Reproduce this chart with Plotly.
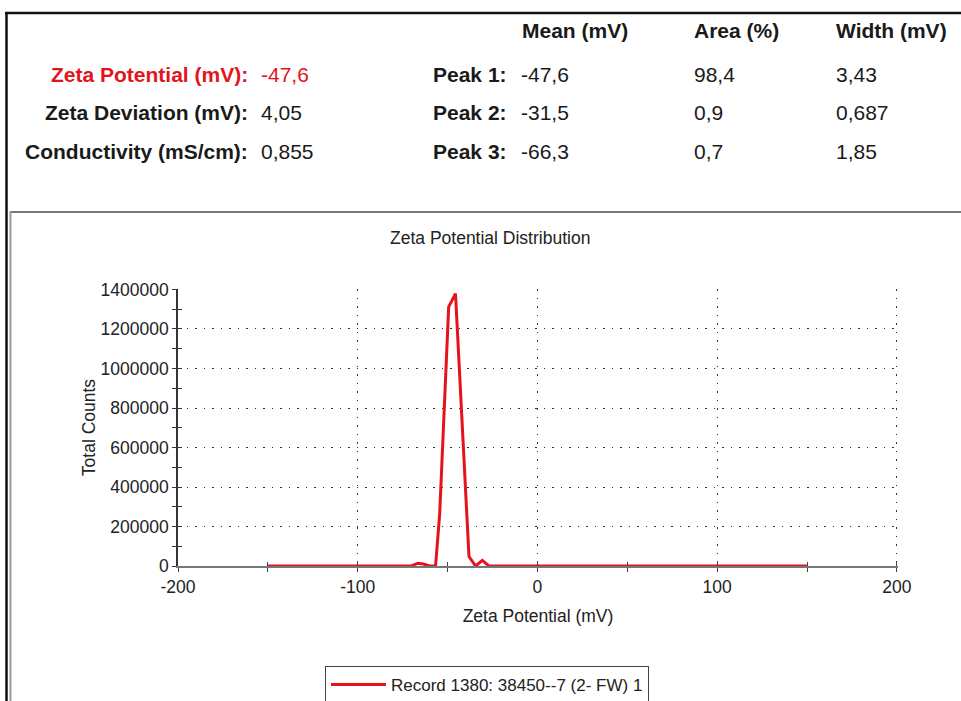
import plotly.graph_objects as go

# ---------------- data ----------------
zeta_mv = [-150, -70.2, -66.5, -63.5, -60.0, -56.7, -54.4, -49.4, -45.6, -38.1, -34.4, -30.7, -27.0, 150]
total_counts = [0, 0, 14000, 10000, 0, 0, 264000, 1312000, 1379000, 48000, 0, 28000, 0, 0]
series_name = "Record 1380: 38450--7 (2- FW) 1"

header_labels = ["Mean (mV)", "Area (%)", "Width (mV)"]
summary_labels = ["Zeta Potential (mV):", "Zeta Deviation (mV):", "Conductivity (mS/cm):"]
summary_values = ["-47,6", "4,05", "0,855"]
peak_labels = ["Peak 1:", "Peak 2:", "Peak 3:"]
peak_mean = ["-47,6", "-31,5", "-66,3"]
peak_area = ["98,4", "0,9", "0,7"]
peak_width = ["3,43", "0,687", "1,85"]

x_ticks = [-200, -100, 0, 100, 200]
x_tick_labels = ["-200", "-100", "0", "100", "200"]
y_ticks = [0, 200000, 400000, 600000, 800000, 1000000, 1200000, 1400000]
y_tick_labels = ["0", "200000", "400000", "600000", "800000", "1000000", "1200000", "1400000"]

# ---------------- layout geometry ----------------
W, H = 961, 701
L, R, T, B = 178, 63, 289, 135
PW, PH = W - L - R, H - T - B


def px(X):
    return (X - L) / PW


def py(Y):
    return (T + PH - Y) / PH


FONT = "Liberation Sans, Arial, sans-serif"
RED = "#e3141b"
TXT = "#1a1a1a"

fig = go.Figure()
fig.add_trace(go.Scatter(
    x=zeta_mv, y=total_counts, mode="lines", name=series_name,
    line=dict(color=RED, width=3), showlegend=True,
))
# dummy trace for overlay axes (crossing ticks)
fig.add_trace(go.Scatter(x=[None], y=[None], xaxis="x2", yaxis="y2",
                         showlegend=False, hoverinfo="skip"))

grid_dash = "1.5px,7px"
axis_font = dict(family=FONT, size=17.5, color="#222")
XR = [-200, 200.6]
YR = [0, 1402500]

fig.update_layout(
    width=W, height=H,
    margin=dict(l=L, r=R, t=T, b=B, autoexpand=False),
    paper_bgcolor="white", plot_bgcolor="white",
    font=dict(family=FONT, color=TXT),
    xaxis=dict(
        range=XR, tickvals=x_ticks, ticktext=x_tick_labels, ticks="outside", ticklen=4,
        tickwidth=1.2, tickcolor="#444",
        minor=dict(dtick=50, tick0=0, ticks="outside", ticklen=4, tickcolor="#444", showgrid=False),
        showgrid=True, gridcolor="#333", gridwidth=1.3, griddash=grid_dash,
        showline=True, linecolor="#777", linewidth=2, zeroline=False,
        tickfont=axis_font,
        title=dict(text="Zeta Potential (mV)", font=dict(family=FONT, size=17.5, color="#222"), standoff=14),
        automargin=False, fixedrange=True,
    ),
    yaxis=dict(
        range=YR, tickvals=y_ticks, ticktext=y_tick_labels, ticks="outside", ticklen=4,
        tickwidth=1.2, tickcolor="#333",
        minor=dict(dtick=100000, tick0=0, ticks="outside", ticklen=4, tickcolor="#333", showgrid=False),
        showgrid=True, gridcolor="#333", gridwidth=1.3, griddash=grid_dash,
        showline=True, linecolor="#333", linewidth=1.6, zeroline=False,
        tickfont=axis_font,
        title=dict(text="Total Counts", font=dict(family=FONT, size=17.5, color="#222"), standoff=0),
        automargin=False, fixedrange=True,
    ),
    xaxis2=dict(
        overlaying="x", anchor="y2", range=XR, tickvals=x_ticks,
        ticks="inside", ticklen=4, tickwidth=1.2, tickcolor="#444", showticklabels=False,
        minor=dict(dtick=50, tick0=0, ticks="inside", ticklen=4, tickcolor="#444", showgrid=False),
        showgrid=False, zeroline=False, showline=False, side="bottom", fixedrange=True,
    ),
    yaxis2=dict(
        overlaying="y", anchor="x2", range=YR, tickvals=y_ticks,
        ticks="inside", ticklen=4, tickwidth=1.2, tickcolor="#333", showticklabels=False,
        minor=dict(dtick=100000, tick0=0, ticks="inside", ticklen=4, tickcolor="#333", showgrid=False),
        showgrid=False, zeroline=False, showline=False, side="left", fixedrange=True,
    ),
    legend=dict(
        x=px(487), y=py(666), xanchor="center", yanchor="top",
        bordercolor="#444", borderwidth=1, bgcolor="white",
        font=dict(family=FONT, size=17, color="#222"),
        itemwidth=55, tracegroupgap=0,
    ),
    showlegend=True,
)

annotations = []


def add_text(X, Y, text, anchor="left", size=21, bold=False, color=TXT):
    annotations.append(dict(
        xref="paper", yref="paper", x=px(X), y=py(Y), text=(f"<b>{text}</b>" if bold else text),
        xanchor=anchor, yanchor="middle", showarrow=False,
        font=dict(family=FONT, size=size, color=color),
    ))


# header row
for X, t in zip([520, 692, 834], header_labels):
    add_text(X, 30, t, bold=True)

rows_y = [74, 112, 151]
for i, Y in enumerate(rows_y):
    col = RED if i == 0 else TXT
    add_text(250, Y, summary_labels[i], anchor="right", bold=True, color=col)
    add_text(259, Y, summary_values[i], color=col)
    add_text(509, Y, peak_labels[i], anchor="right", bold=True)
    add_text(519, Y, peak_mean[i])
    add_text(692, Y, peak_area[i])
    add_text(834, Y, peak_width[i])

# chart title
annotations.append(dict(
    xref="paper", yref="paper", x=px(490), y=py(238), text="Zeta Potential Distribution",
    xanchor="center", yanchor="middle", showarrow=False,
    font=dict(family=FONT, size=17.5, color="#222"),
))

fig.update_layout(annotations=annotations)

# frame lines
shapes = [
    dict(type="line", xref="paper", yref="paper", x0=px(5), x1=px(961), y0=py(13), y1=py(13),
         line=dict(color="#111", width=2.5)),
    dict(type="line", xref="paper", yref="paper", x0=px(6.5), x1=px(6.5), y0=py(12), y1=py(701),
         line=dict(color="#111", width=2.5)),
    dict(type="line", xref="paper", yref="paper", x0=px(10), x1=px(961), y0=py(212), y1=py(212),
         line=dict(color="#777", width=2)),
    dict(type="line", xref="paper", yref="paper", x0=px(10.5), x1=px(10.5), y0=py(211), y1=py(701),
         line=dict(color="#999", width=2)),
]
fig.update_layout(shapes=shapes)

fig.write_html(
    "out.html",
    config={"displayModeBar": False},
    post_script="document.body.style.margin='0px';document.body.style.padding='0px';"
                "document.body.style.overflow='hidden';",
)
